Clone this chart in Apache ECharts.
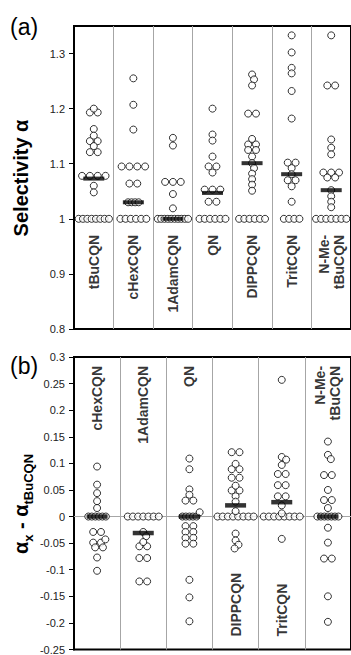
<!DOCTYPE html>
<html><head><meta charset="utf-8">
<script src="https://cdn.jsdelivr.net/npm/echarts@6/dist/echarts.min.js"></script>
<style>html,body{margin:0;padding:0;background:#fff}#c{width:351px;height:655px}</style>
</head><body><div id="c"></div>
<script>
// ---------- Panel (a): selectivity alpha ----------
const catsA = ['tBuCQN', 'cHexCQN', '1AdamCQN', 'QN', 'DIPPCQN', 'TritCQN', 'N-Me-\ntBuCQN'];
const aTBuCQN = [1.200, 1.193, 1.193, 1.163, 1.151, 1.141, 1.141, 1.132, 1.121, 1.121, 1.078, 1.078, 1.078, 1.078, 1.060, 1.048, 1, 1, 1, 1, 1, 1, 1, 1];
const aCHexCQN = [1.255, 1.207, 1.162, 1.095, 1.095, 1.095, 1.095, 1.064, 1.064, 1.030, 1.030, 1.030, 1.030, 1, 1, 1, 1, 1, 1];
const aAdamCQN = [1.147, 1.133, 1.067, 1.067, 1.067, 1.045, 1.019, 1, 1, 1, 1, 1, 1, 1, 1, 1, 1];
const aQN = [1.200, 1.153, 1.142, 1.113, 1.095, 1.095, 1.084, 1.053, 1.053, 1.053, 1.031, 1.031, 1, 1, 1, 1, 1, 1];
const aDIPPCQN = [1.262, 1.253, 1.242, 1.191, 1.191, 1.145, 1.135, 1.135, 1.125, 1.125, 1.113, 1.101, 1.092, 1.082, 1.072, 1.062, 1.051, 1, 1, 1, 1, 1, 1];
const aTritCQN = [1.333, 1.302, 1.274, 1.264, 1.232, 1.182, 1.102, 1.102, 1.092, 1.081, 1.070, 1.070, 1.059, 1.031, 1, 1, 1, 1];
const aNMeTBuCQN = [1.333, 1.242, 1.242, 1.144, 1.129, 1.117, 1.084, 1.084, 1.084, 1.075, 1.075, 1.052, 1.041, 1.031, 1.021, 1, 1, 1, 1, 1, 1, 1];
const medianA = [1.073, 1.030, 1.000, 1.047, 1.101, 1.081, 1.052];
const ticksA = [0.8, 0.9, 1, 1.1, 1.2, 1.3];

// ---------- Panel (b): alpha_x - alpha_tBuCQN ----------
const catsB = ['cHexCQN', '1AdamCQN', 'QN', 'DIPPCQN', 'TritCQN', 'N-Me-\ntBuCQN'];
const dCHexCQN = [0.094, 0.060, 0.044, 0.029, 0.016, 0, 0, 0, 0, 0, 0, -0.029, -0.029, -0.043, -0.049, -0.049, -0.058, -0.058, -0.077, -0.102];
const dAdamCQN = [0, 0, 0, 0, 0, 0, 0, -0.029, -0.037, -0.048, -0.056, -0.056, -0.078, -0.078, -0.122, -0.122];
const dQN = [0.109, 0.089, 0.051, 0.041, 0.030, 0.030, 0.008, 0, 0, 0, 0, 0, -0.018, -0.018, -0.029, -0.029, -0.040, -0.040, -0.051, -0.051, -0.119, -0.152, -0.197];
const dDIPPCQN = [0.121, 0.121, 0.099, 0.089, 0.089, 0.073, 0.073, 0.058, 0.049, 0.049, 0.038, 0.028, 0.010, 0, 0, 0, 0, 0, 0, 0, 0, -0.032, -0.045, -0.053, -0.060];
const dTritCQN = [0.257, 0.112, 0.107, 0.097, 0.080, 0.080, 0.059, 0.059, 0.038, 0.038, 0.021, 0.006, 0, 0, 0, 0, 0, 0, 0, 0, -0.042];
const dNMeTBuCQN = [0.141, 0.116, 0.108, 0.078, 0.078, 0.050, 0.031, 0.031, 0.016, 0, 0, 0, 0, 0, 0, 0, -0.021, -0.049, -0.079, -0.079, -0.150, -0.198];
const medianB = [0, -0.031, 0, 0.021, 0.027, 0];
const ticksB = [-0.25, -0.2, -0.15, -0.1, -0.05, 0, 0.05, 0.1, 0.15, 0.2, 0.25, 0.3];

const colsA = [aTBuCQN, aCHexCQN, aAdamCQN, aQN, aDIPPCQN, aTritCQN, aNMeTBuCQN];
const colsB = [dCHexCQN, dAdamCQN, dQN, dDIPPCQN, dTritCQN, dNMeTBuCQN];

// ---------- layout ----------
const FONT = "'Liberation Sans', Arial, sans-serif";
const GA = { left: 74, top: 26, width: 283, height: 303, min: 0.8, max: 1.35 };
const GB = { left: 74, top: 357, width: 284, height: 294, min: -0.25, max: 0.3 };

// beeswarm-style dodge computed from the values (pixel space)
function swarm(vals, ppuY, base, med, maxW) {
  const groups = [], m = new Map();
  vals.forEach(v => {
    const k = v.toFixed(4);
    if (!m.has(k)) { m.set(k, { v: v, n: 0 }); groups.push(m.get(k)); }
    m.get(k).n++;
  });
  groups.sort((a, b) => b.n - a.n || b.v - a.v);
  const placed = [];
  const D = 5.2;
  for (const g of groups) {
    let sp = 0;
    if (g.n > 1) {
      const onMed = Math.abs(g.v - med) * ppuY < 2.5;
      const onBase = Math.abs(g.v - base) < 1e-9;
      sp = onMed ? 3.6 : (onBase ? 5.3 : 8);
      sp = Math.min(sp, (maxW - 7) / (g.n - 1));
    }
    const offs = Array.from({ length: g.n }, (_, k) => (k - (g.n - 1) / 2) * sp);
    const y = g.v * ppuY;
    let shift = 0;
    for (let t = 0; t < 80; t++) {
      const s = t === 0 ? 0 : (t % 2 ? 1 : -1) * Math.ceil(t / 2) * 0.5;
      if (offs.every(bx => placed.every(p => Math.hypot(bx + s - p.x, y - p.y) >= D))) { shift = s; break; }
    }
    offs.forEach(bx => placed.push({ x: bx + shift, y: y, v: g.v }));
  }
  return placed;
}

function buildPoints(cols, G, nCols, base, meds, maxW) {
  const ppuY = G.height / (G.max - G.min);
  const ppuX = G.width / nCols;
  const out = [];
  cols.forEach((vals, i) => {
    swarm(vals, ppuY, base, meds[i], maxW).forEach(p => out.push([i + 0.5 + p.x / ppuX, p.v]));
  });
  return out;
}

const ptsA = buildPoints(colsA, GA, catsA.length, 1, medianA, 38);
const ptsB = buildPoints(colsB, GB, catsB.length, 0, medianB, 44);

const labelAY = 1 - 16 * (GA.max - GA.min) / GA.height;
const labelBTop = GB.max - 9 * (GB.max - GB.min) / GB.height;
const labelBBot = GB.min + 13 * (GB.max - GB.min) / GB.height;
const bottomLabelsB = ['DIPPCQN', 'TritCQN'];

function yAxisCfg(G, idx, ticks, interval) {
  return {
    type: 'value', gridIndex: idx, min: G.min, max: G.max, interval: interval,
    axisLine: { show: true, onZero: false, lineStyle: { color: '#000', width: 2 } },
    axisTick: { show: true, inside: false, length: 5, customValues: ticks, lineStyle: { color: '#000', width: 1 } },
    axisLabel: { customValues: ticks, color: '#222', fontSize: 11, fontFamily: FONT, margin: 9 },
    splitLine: { show: false }
  };
}
function xAxisCfg(idx, n) {
  return {
    type: 'value', gridIndex: idx, min: 0, max: n, interval: 1,
    axisLine: { show: false, onZero: false }, axisTick: { show: false }, axisLabel: { show: false },
    splitLine: { show: true, lineStyle: { color: '#a6a6a6', width: 1 } }
  };
}

const circleStyle = { color: '#fff', borderColor: '#000', borderWidth: 1 };
const labelBase = { show: true, position: 'inside', rotate: 90, verticalAlign: 'middle', color: '#000',
  fontWeight: 'bold', fontSize: 14, fontFamily: FONT, lineHeight: 15 };

const option = {
  animation: false,
  backgroundColor: '#fff',
  grid: [
    { left: GA.left, top: GA.top, width: GA.width, height: GA.height, show: true, borderColor: '#000', borderWidth: 2, backgroundColor: 'transparent' },
    { left: GB.left, top: GB.top, width: GB.width, height: GB.height, show: true, borderColor: '#000', borderWidth: 2, backgroundColor: 'transparent' }
  ],
  xAxis: [xAxisCfg(0, catsA.length), xAxisCfg(1, catsB.length)],
  yAxis: [yAxisCfg(GA, 0, ticksA, 0.1), yAxisCfg(GB, 1, ticksB, 0.05)],
  series: [
    { type: 'scatter', xAxisIndex: 0, yAxisIndex: 0, data: ptsA, symbol: 'circle', symbolSize: 7, itemStyle: circleStyle, z: 3, silent: true },
    { type: 'scatter', xAxisIndex: 0, yAxisIndex: 0, data: medianA.map((v, i) => [i + 0.5, v]), symbol: 'rect', symbolSize: [21, 4], itemStyle: { color: '#000' }, z: 4, silent: true },
    { type: 'scatter', xAxisIndex: 0, yAxisIndex: 0, symbolSize: 1, itemStyle: { color: 'transparent' }, z: 5, silent: true,
      data: catsA.map((c, i) => ({ value: [i + 0.5, labelAY], name: c })),
      label: Object.assign({}, labelBase, { align: 'right', formatter: p => p.name }) },
    { type: 'scatter', xAxisIndex: 1, yAxisIndex: 1, data: ptsB, symbol: 'circle', symbolSize: 7, itemStyle: circleStyle, z: 3, silent: true,
      markLine: { silent: true, z: 1, symbol: 'none', label: { show: false }, lineStyle: { color: '#a6a6a6', width: 1, type: 'solid' }, data: [{ yAxis: 0 }] } },
    { type: 'scatter', xAxisIndex: 1, yAxisIndex: 1, data: medianB.map((v, i) => [i + 0.5, v]), symbol: 'rect', symbolSize: [21, 4.5], itemStyle: { color: '#000' }, z: 4, silent: true },
    { type: 'scatter', xAxisIndex: 1, yAxisIndex: 1, symbolSize: 1, itemStyle: { color: 'transparent' }, z: 5, silent: true,
      data: catsB.map((c, i) => {
        const bottom = bottomLabelsB.indexOf(c) >= 0;
        return { value: [i + 0.5, bottom ? labelBBot : labelBTop], name: c,
          label: Object.assign({}, labelBase, { align: bottom ? 'left' : 'right', formatter: p => p.name }) };
      }) }
  ],
  graphic: [
    { type: 'text', x: 10, y: 27, style: { text: '(a)', font: '23px ' + FONT, fill: '#000', textVerticalAlign: 'middle' } },
    { type: 'text', x: 10, y: 366, style: { text: '(b)', font: '23px ' + FONT, fill: '#000', textVerticalAlign: 'middle' } },
    { type: 'text', x: 21, y: 178, rotation: Math.PI / 2,
      style: { text: 'Selectivity α', font: 'bold 20px ' + FONT, fill: '#000', textAlign: 'center', textVerticalAlign: 'middle' } },
    { type: 'text', x: 23, y: 504, rotation: Math.PI / 2,
      style: { text: '{m|α}{s|x}{m| - α}{s|tBuCQN}', textAlign: 'center', textVerticalAlign: 'middle', fill: '#000',
        rich: {
          m: { fontFamily: FONT, fontWeight: 'bold', fontSize: 20, lineHeight: 24, verticalAlign: 'top', fill: '#000' },
          s: { fontFamily: FONT, fontWeight: 'bold', fontSize: 13, lineHeight: 13, verticalAlign: 'bottom', fill: '#000' }
        } } }
  ]
};

const chart = echarts.init(document.getElementById('c'), null, { renderer: 'svg', width: 351, height: 655 });
chart.setOption(option);
</script>
</body></html>
